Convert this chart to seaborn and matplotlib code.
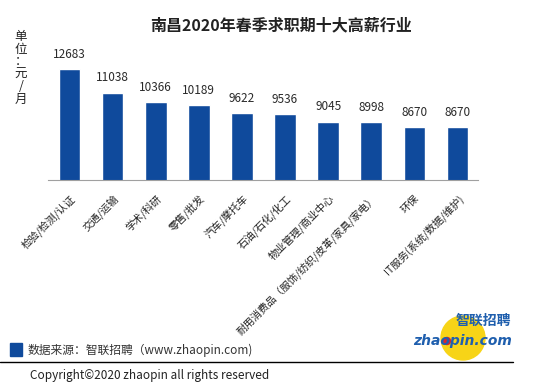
import matplotlib
matplotlib.use('Agg')
import matplotlib.pyplot as plt
import seaborn as sns
import numpy as np
from matplotlib.patches import Ellipse, Rectangle

# Data
industries = ['检验/检测/认证', '交通/运输', '学术/科研', '零售/批发', '汽车/摩托车',
              '石油/石化/化工', '物业管理/商业中心', '耐用消费品（服饰/纺织/皮革/家具/家电）',
              '环保', 'IT服务(系统/数据/维护)']
salaries = [12683, 11038, 10366, 10189, 9622, 9536, 9045, 8998, 8670, 8670]

title = '南昌2020年春季求职期十大高薪行业'
source_text = '数据来源：智联招聘（www.zhaopin.com)'
copyright_text = 'Copyright©2020 zhaopin all rights reserved'

bar_color = '#0f4a9c'

sns.set_style('white')
plt.rcParams['font.family'] = ['Noto Sans CJK SC', 'DejaVu Sans']

fig = plt.figure(figsize=(5.54, 3.91), dpi=100)
W, H = 554, 391
ax = fig.add_axes([48 / W, 1 - 180 / H, (479 - 48) / W, 140 / H])

sns.barplot(x=industries, y=salaries, color=bar_color, width=0.5,
            saturation=1, ax=ax)
ax.set_ylim(5000, 14690)
ax.set_xlim(-0.5, len(industries) - 0.5)

# value labels
for i, v in enumerate(salaries):
    ax.annotate(str(v), (i, v), xytext=(0, 6), textcoords='offset points',
                ha='center', va='bottom', fontsize=8.5, color='#2a2a2a')

# axes styling
for s in ['top', 'right', 'left']:
    ax.spines[s].set_visible(False)
ax.spines['bottom'].set_color('#a0a0a0')
ax.spines['bottom'].set_linestyle((0, (1, 1)))
ax.spines['bottom'].set_linewidth(0.8)
ax.set_yticks([])
ax.set_ylabel('')
ax.set_xticks(range(len(industries)))
ax.set_xticks(np.arange(-0.5, len(industries)), minor=True)
ax.tick_params(axis='x', which='major', length=0, pad=9)
ax.tick_params(axis='x', which='minor', length=3, color='#a0a0a0', width=0.6)
ax.set_xticklabels(industries, rotation=45, ha='right', rotation_mode='anchor',
                   fontsize=7.5, color='#222222')

# title and unit label
fig.text(281 / W, 1 - 25 / H, title, ha='center', va='center',
         fontsize=11.5, fontweight='bold', color='#222222')
fig.text(21 / W, 1 - 68 / H, '\n'.join(['单', '位', '：', '元', '/', '月']),
         ha='center', va='center', fontsize=9, linespacing=0.95, color='#222222')

# footer
fig.patches.append(Rectangle((10 / W, 1 - 356 / H), 12 / W, 13 / H,
                             transform=fig.transFigure, color=bar_color))
fig.text(28 / W, 1 - 350 / H, source_text, ha='left', va='center',
         fontsize=8.5, color='#333333')
fig.add_artist(plt.Line2D([0, 513 / W], [1 - 362 / H, 1 - 362 / H],
                          transform=fig.transFigure, color='black', lw=1))
fig.text(30 / W, 1 - 376 / H, copyright_text, ha='left', va='center',
         fontsize=8.5, color='#222222')

# logo
fig.patches.append(Ellipse((463 / W, 1 - 338 / H), 44 / W, 44 / H,
                           transform=fig.transFigure, color='#f7d417', zorder=0))
fig.patches.append(Ellipse((447 / W, 1 - 341 / H), 7 / W, 7 / H,
                           transform=fig.transFigure, color='#d8262e', zorder=1))
fig.text(483 / W, 1 - 321 / H, '智联招聘', ha='center', va='center',
         fontsize=10, fontweight='bold', style='italic', color='#1f5fae')
fig.text(463 / W, 1 - 341 / H, 'zhaopin.com', ha='center', va='center',
         fontsize=10, fontweight='bold', style='italic', color='#1f5fae',
         family='DejaVu Sans')

fig.savefig('out.png', dpi=100)
